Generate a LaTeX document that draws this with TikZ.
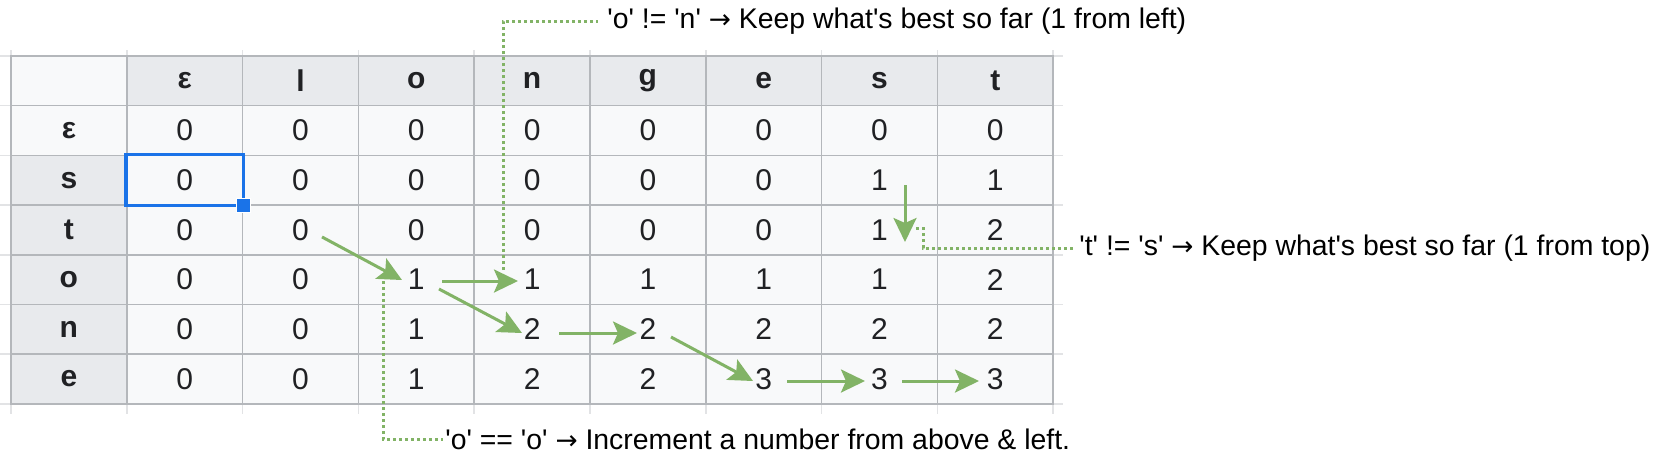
\documentclass[tikz,border=0pt]{standalone}
\usepackage{fontspec}
\setmainfont{Liberation Sans}[Ligatures=TeXOff]
\newfontfamily\arrowfont{DejaVu Sans}
\usetikzlibrary{arrows.meta,calc}
\definecolor{gridc}{HTML}{B4B7BB}
\definecolor{stubc}{HTML}{E2E3E5}
\definecolor{hdrc}{HTML}{E8EAED}
\definecolor{cellc}{HTML}{F8F9FA}
\definecolor{selc}{HTML}{1A73E8}
\definecolor{grn}{HTML}{82B366}
\definecolor{txtc}{HTML}{202124}
\newcommand{\rarr}{{\arrowfont\fontsize{13.2}{17}\selectfont →}}
\begin{document}
\begin{tikzpicture}[x=0.5pt,y=-0.5pt,
  cell/.style={draw=gridc, line width=0.75pt, fill=cellc, minimum width=57.9pt, minimum height=24.85pt, inner sep=0pt, text=txtc, font=\fontsize{15}{18}\selectfont},
  hdr/.style={cell, fill=hdrc, font=\fontsize{15}{18}\selectfont\bfseries},
  flow/.style={draw=grn, line width=1.5pt, -{Stealth[length=12pt,width=11.5pt,inset=2.5pt]}},
  note/.style={draw=grn, line width=1.5pt, dash pattern=on 1.5pt off 1.5pt},
  lbl/.style={anchor=west, inner sep=0pt, text=black, font=\fontsize{14.2}{17}\selectfont}]
\useasboundingbox[fill=white] (0,0) rectangle (1670,462);
% grid stubs
\foreach \i in {0,...,9} \draw[stubc, line width=0.75pt] ({11+115.8*\i},50) -- ({11+115.8*\i},414);
\foreach \j in {0,...,7} \draw[stubc, line width=0.75pt] (0,{56+49.7*\j}) -- (1063,{56+49.7*\j});
% header cells
\node[cell] (h00) at (68.9,80.85) {};
\foreach \t [count=\k] in {ε,l,o,n,g,e,s,t}
  \node[hdr] (h0\k) at ({11+115.8*(\k+0.5)},80.85) {\t};
\node[hdr, fill=cellc] (h10) at (68.9,130.55) {ε};
\foreach \t [count=\j from 2] in {s,t,o,n,e}
  \node[hdr] (h\j0) at (68.9,{56+49.7*(\j+0.5)}) {\t};
% value cells
\foreach \row [count=\j] in {{0,0,0,0,0,0,0,0},{0,0,0,0,0,0,1,1},{0,0,0,0,0,0,1,2},{0,0,1,1,1,1,1,2},{0,0,1,2,2,2,2,2},{0,0,1,2,2,3,3,3}}{
  \foreach \v [count=\k] in \row
    \node[cell] (c\j\k) at ({11+115.8*(\k+0.5)},{56+49.7*(\j+0.5)}) {\v};
}
% selected cell
\draw[selc, line width=1.6pt] (c21.north west) rectangle (c21.south east);
\node[fill=selc, draw=white, line width=0.5pt, minimum size=7pt, inner sep=0pt] (hdl) at (c21.south east) {};
% flow arrows
\draw[flow] ($(c32)+(21.5,7)$) -- ($(c43)+(-14.3,0.35)$);
\draw[flow] ($(c43)+(25.7,1.35)$) -- ($(c44)+(-14.1,1.35)$);
\draw[flow] ($(c43)+(22.7,9.35)$) -- ($(c54)+(-10.1,3.65)$);
\draw[flow] ($(c54)+(26.9,3.65)$) -- ($(c55)+(-10.9,3.65)$);
\draw[flow] ($(c55)+(23.1,7.65)$) -- ($(c66)+(-10.7,1.95)$);
\draw[flow] ($(c66)+(23.3,1.95)$) -- ($(c67)+(-14.5,1.95)$);
\draw[flow] ($(c67)+(22.5,1.95)$) -- ($(c68)+(-16.3,1.95)$);
\draw[flow] ($(c27)+(25.5,4.75)$) -- ($(c37)+(25.5,12.05)$);
% annotations
\node[lbl] (t1) at (607,21) {'o' != 'n' \rarr{} Keep what's best so far (1 from left)};
\node[lbl] (t2) at (1079,248) {'t' != 's' \rarr{} Keep what's best so far (1 from top)};
\node[lbl] (t3) at (445,439) {'o' == 'o' \rarr{} Increment a number from above \& left.};
\draw[note, shorten >=4.5pt] ($(c44)+(-29.1,-9.65)$) |- (t1.west);
\draw[note, shorten >=2pt] ($(c37)+(36.5,-1.95)$) -- ++(7,0) |- (t2.west);
\draw[note, shorten >=1pt] ($(c43)+(-33.3,1.35)$) |- (t3.west);
\end{tikzpicture}
\end{document}
